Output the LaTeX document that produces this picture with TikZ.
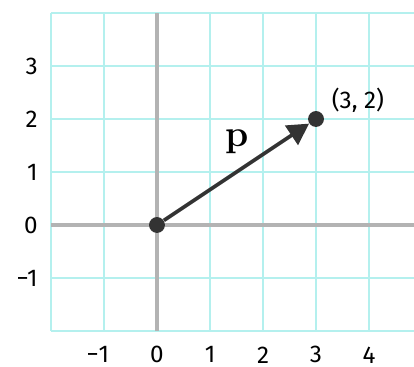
\documentclass[tikz,border=0pt]{standalone}
\usepackage[no-math]{fontspec}
\setmainfont{Fira Sans}
\usetikzlibrary{arrows.meta}
\definecolor{gridcyan}{HTML}{B4F0EE}
\definecolor{axisgray}{HTML}{B3B3B3}
\definecolor{vecdark}{HTML}{333333}
\begin{document}
\begin{tikzpicture}[x=1cm,y=1cm,
  gridline/.style={draw=gridcyan, line width=1.2pt},
  axisline/.style={draw=axisgray, line width=2.2pt},
  ticklabel/.style={font=\fontsize{13}{15}\selectfont, inner sep=0pt, text=black},
  dotnode/.style={circle, fill=vecdark, inner sep=0pt, minimum size=0.3cm},
  vecline/.style={draw=vecdark, line width=2pt, -{Triangle[length=0.4cm, width=0.43cm]}}]
\useasboundingbox (-2.962,-2.679) rectangle (4.849,4.245);
\begin{scope}
\clip (-2.962,-2.679) rectangle (4.849,4.245);
\foreach \x in {-2,...,4} \draw[gridline] (\x,-2) -- (\x,4);
\foreach \y in {-2,...,4} \draw[gridline] (-2,\y) -- (4.9,\y);
\draw[axisline] (-2,0) -- (4.9,0);
\draw[axisline] (0,-2) -- (0,4);
\end{scope}
% x tick labels
\node[ticklabel] (xm1) at (-1,-2.45) {\llap{−}1};
\foreach \x in {0,...,4} \node[ticklabel] (x\x) at (\x,-2.45) {\x};
% y tick labels
\node[ticklabel, anchor=east] (ym1) at (-2.245,-1) {−1};
\foreach \y in {0,...,3} \node[ticklabel, anchor=east] (y\y) at (-2.245,\y) {\y};
% vector
\node[dotnode] (o) at (0,0) {};
\node[dotnode] (pt) at (3,2) {};
\draw[vecline] (o) -- (pt);
\node[inner sep=0pt] (plabel) at (1.51,1.57) {\fontfamily{lmr}\fontseries{bx}\fontsize{20}{22}\selectfont p};
\node[ticklabel] (ptlabel) at (3.79,2.36) {(3, 2)};
\end{tikzpicture}
\end{document}
